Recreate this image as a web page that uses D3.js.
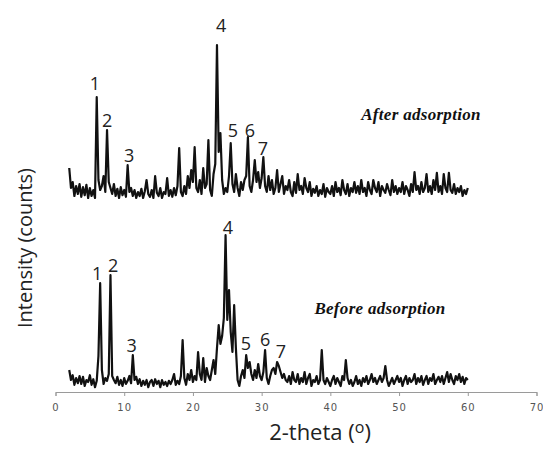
<!DOCTYPE html>
<html>
<head>
<meta charset="utf-8">
<script src="https://cdn.jsdelivr.net/npm/d3@7"></script>
<style>
  body { margin: 0; background: #fff; }
  svg { display: block; }
</style>
</head>
<body>
<div id="chart"></div>
<script>
// 2-theta runs from 2 to 60 in steps of 0.25 (8 values per row = 2 degrees)
var thetaStart = 2, thetaStep = 0.25;

var beforeCounts = [
  55, 30, 42, 18, 35, 22, 40, 20,
  38, 15, 30, 25, 42, 18, 32, 12,
  28, 90, 272, 55, 20, 35, 28, 45,
  292, 40, 30, 22, 38, 18, 30, 15,
  35, 20, 28, 40, 22, 92, 30, 38,
  20, 32, 15, 28, 18, 30, 12, 25,
  30, 15, 32, 20, 28, 12, 30, 18,
  25, 15, 28, 20, 30, 45, 18, 28,
  20, 40, 130, 35, 18, 45, 30, 55,
  25, 40, 30, 100, 45, 30, 85, 25,
  60, 40, 30, 55, 80, 45, 110, 167,
  120, 140, 185, 392, 180, 255, 150, 100,
  217, 110, 30, 15, 40, 55, 35, 92,
  60, 75, 45, 30, 55, 35, 70, 40,
  30, 50, 105, 35, 20, 40, 55, 60,
  45, 75, 65, 50, 35, 45, 30, 25,
  40, 20, 50, 30, 25, 45, 20, 35,
  25, 50, 20, 35, 45, 15, 30, 25,
  40, 20, 30, 105, 30, 20, 35, 25,
  15, 30, 40, 20, 35, 25, 15, 40,
  30, 80, 35, 20, 30, 15, 25, 40,
  20, 30, 15, 35, 25, 40, 20, 30,
  45, 25, 35, 20, 30, 40, 25, 35,
  65, 30, 15, 25, 35, 20, 30, 40,
  25, 35, 15, 30, 40, 20, 35, 25,
  30, 45, 20, 35, 25, 40, 18, 30,
  40, 20, 35, 28, 45, 20, 30, 38,
  25, 40, 20, 35, 50, 25, 45, 30,
  20, 40, 30, 45, 25, 38, 20, 35,
  30
];

var afterCounts = [
  90, 40, 55, 20, 45, 25, 50, 18,
  42, 22, 48, 15, 40, 20, 35, 15,
  267, 60, 35, 45, 70, 30, 185, 55,
  40, 25, 50, 20, 38, 15, 42, 22,
  35, 18, 97, 30, 40, 20, 35, 15,
  30, 20, 38, 15, 32, 60, 25, 18,
  35, 15, 70, 28, 20, 40, 15, 30,
  25, 65, 20, 35, 18, 40, 22, 45,
  140, 30, 20, 45, 25, 70, 40, 85,
  55, 142, 40, 30, 60, 25, 90, 40,
  50, 160, 35, 20, 75, 100, 397, 130,
  177, 60, 25, 40, 30, 70, 152, 50,
  30, 75, 40, 20, 55, 35, 60, 70,
  167, 45, 30, 60, 110, 55, 80, 40,
  65, 117, 45, 30, 70, 35, 60, 25,
  40, 85, 30, 50, 70, 25, 45, 35,
  60, 30, 20, 55, 28, 75, 35, 45,
  25, 65, 40, 30, 55, 20, 38, 28,
  45, 20, 35, 25, 50, 18, 40, 30,
  25, 45, 20, 55, 30, 40, 22, 60,
  35, 25, 50, 20, 40, 30, 55, 28,
  45, 25, 60, 30, 40, 20, 55, 35,
  25, 60, 40, 30, 55, 20, 45, 35,
  28, 50, 35, 22, 60, 30, 45, 25,
  40, 30, 55, 25, 45, 35, 20, 50,
  30, 80, 35, 45, 25, 55, 30, 40,
  75, 30, 45, 25, 60, 35, 78, 30,
  45, 25, 75, 40, 30, 78, 35, 28,
  50, 25, 40, 30, 45, 20, 35, 25,
  40
];

// peak numbers: where the label sits (2-theta, counts)
var peakNames = ["1", "2", "3", "4", "5", "6", "7"];
var beforePeakTheta = [6.05, 8.4, 11.1, 25.1, 27.7, 30.5, 32.8];
var beforePeakCounts = [280, 300, 100, 395, 105, 115, 85];
var afterPeakTheta = [5.75, 7.5, 10.7, 24.1, 25.8, 28.3, 30.2];
var afterPeakCounts = [285, 192, 105, 430, 167, 167, 122];

var xTicks = [0, 10, 20, 30, 40, 50, 60, 70];

var width = 543, height = 452;
var afterOffset = 470; // vertical shift of the upper pattern, in counts

var svg = d3.select("#chart")
  .append("svg")
  .attr("width", width)
  .attr("height", height);

var x = d3.scaleLinear().domain([0, 70]).range([55.5, 536.5]);
var y = d3.scaleLinear().domain([0, 950]).range([392, 12]);

var toPoints = (counts, offset) => counts.map((c, i) => ({ t: thetaStart + i * thetaStep, c: c + offset }));

var line = d3.line()
  .x(d => x(d.t))
  .y(d => y(d.c));

// x axis
var xAxis = svg.append("g")
  .attr("transform", "translate(0," + y(0) + ")")
  .call(d3.axisBottom(x).tickValues(xTicks).tickSize(4).tickPadding(8));
xAxis.select(".domain").attr("stroke", "#9a9a9a");
xAxis.selectAll(".tick line").attr("stroke", "#9a9a9a");
xAxis.selectAll(".tick text")
  .attr("fill", "#555")
  .style("font-family", "DejaVu Sans, sans-serif")
  .style("font-size", "10px")
  .style("letter-spacing", "1px");

// traces
[toPoints(beforeCounts, 0), toPoints(afterCounts, afterOffset)].forEach(pts => {
  svg.append("path")
    .datum(pts)
    .attr("d", line)
    .attr("fill", "none")
    .attr("stroke", "#111")
    .attr("stroke-width", 2.2)
    .attr("stroke-linejoin", "round");
});

// peak numbers
var drawPeakNames = (thetas, counts, offset) => {
  svg.append("g")
    .selectAll("text")
    .data(peakNames)
    .enter()
    .append("text")
    .attr("x", (d, i) => x(thetas[i]))
    .attr("y", (d, i) => y(counts[i] + offset))
    .attr("text-anchor", "middle")
    .attr("fill", "#222")
    .style("font-family", "Open Sans, sans-serif")
    .style("font-size", "18px")
    .text(d => d);
};
drawPeakNames(beforePeakTheta, beforePeakCounts, 0);
drawPeakNames(afterPeakTheta, afterPeakCounts, afterOffset);

// series names
var seriesLabel = (txt, cx, cy) => {
  svg.append("text")
    .attr("x", cx)
    .attr("y", cy)
    .attr("text-anchor", "middle")
    .attr("fill", "#111")
    .style("font-family", "Liberation Serif, serif")
    .style("font-weight", "bold")
    .style("font-style", "italic")
    .style("font-size", "17px")
    .style("letter-spacing", "0.3px")
    .text(txt);
};
seriesLabel("After adsorption", 421, 120);
seriesLabel("Before adsorption", 380, 314);

// axis titles
var xTitle = svg.append("text")
  .attr("x", 320)
  .attr("y", 440)
  .attr("text-anchor", "middle")
  .attr("fill", "#222")
  .style("font-family", "Open Sans, sans-serif")
  .style("font-size", "22px");
xTitle.append("tspan").text("2-theta (");
xTitle.append("tspan").attr("dy", -7).style("font-size", "16px").text("o");
xTitle.append("tspan").attr("dy", 7).text(")");

svg.append("text")
  .attr("transform", "translate(32,248) rotate(-90)")
  .attr("text-anchor", "middle")
  .attr("fill", "#222")
  .style("font-family", "Open Sans, sans-serif")
  .style("font-size", "20px")
  .text("Intensity (counts)");
</script>
</body>
</html>
